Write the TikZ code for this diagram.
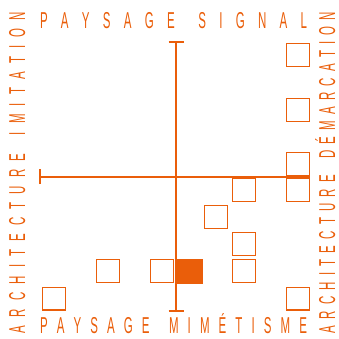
\documentclass[tikz,border=0pt]{standalone}
\usepackage{fontspec}
\usepackage{graphicx}
\newfontfamily\lblfont{Liberation Sans}
\definecolor{org}{RGB}{234,94,10}
\makeatletter
\def\spreadit#1#2{\makebox[#1][s]{\spr@#2\@nil}}
\def\spr@#1{\ifx#1\@nil\unskip\else\ifx#1~\hskip 0.45em\relax\else\scalebox{0.5}[1]{#1}\hskip 0pt plus 1fil\relax\fi\expandafter\spr@\fi}
\makeatother
\tikzset{
  lbl/.style={inner sep=0pt, outer sep=0pt, text=org, font=\lblfont\fontsize{23}{23}\selectfont},
  sq/.style={draw=org, line width=1.3pt, minimum size=22.7pt, inner sep=0pt, outer sep=0pt},
  sqfill/.style={fill=org, draw=org, line width=0.5pt, minimum width=26.5pt, minimum height=23.5pt, inner sep=0pt},
  axis/.style={draw=org, line width=2pt},
}
\begin{document}
\begin{tikzpicture}[x=1pt,y=1pt]
\useasboundingbox (0,0) rectangle (339,338);
% squares
\node[sq] (s1) at (54,39.5) {};
\node[sq] (s2) at (108,67) {};
\node[sq] (s3) at (162,67) {};
\node[sqfill] (f1) at (188.5,67) {};
\node[sq] (s4) at (244,148) {};
\node[sq] (s5) at (216,121) {};
\node[sq] (s6) at (244,94) {};
\node[sq] (s7) at (244,67) {};
\node[sq] (s8) at (298,283) {};
\node[sq] (s9) at (298,228) {};
\node[sq] (s10) at (298,174) {};
\node[sq] (s11) at (298,148) {};
\node[sq] (s12) at (298,39.5) {};
% axes
\coordinate (vt) at (176,295.5);
\coordinate (vb) at (176,27.5);
\coordinate (hl) at (40,161.4);
\coordinate (hr) at (310,161.4);
\draw[axis] (vt) -- (vb);
\draw[axis] (hl) -- (hr);
\draw[axis] ([xshift=-7.5pt]vt) -- ([xshift=7.5pt]vt);
\draw[axis] ([xshift=-7.5pt]vb) -- ([xshift=7.5pt]vb);
\draw[axis] ([yshift=-7.5pt]hl) -- ([yshift=7.5pt]hl);
% labels
\node[lbl, anchor=base west] (tt) at (40,309.7) {\spreadit{267pt}{PAYSAGE~SIGNAL}};
\node[lbl, anchor=base west] (bt) at (40,4.7) {\spreadit{267pt}{PAYSAGE~MIMÉTISME}};
\node[lbl, rotate=90, anchor=base west] (lt) at (25,5) {\spreadit{321pt}{ARCHITECTURE~IMITATION}};
\node[lbl, rotate=90, anchor=base west] (rt) at (335,5) {\spreadit{321pt}{ARCHITECTURE~DÉMARCATION}};
\end{tikzpicture}
\end{document}
